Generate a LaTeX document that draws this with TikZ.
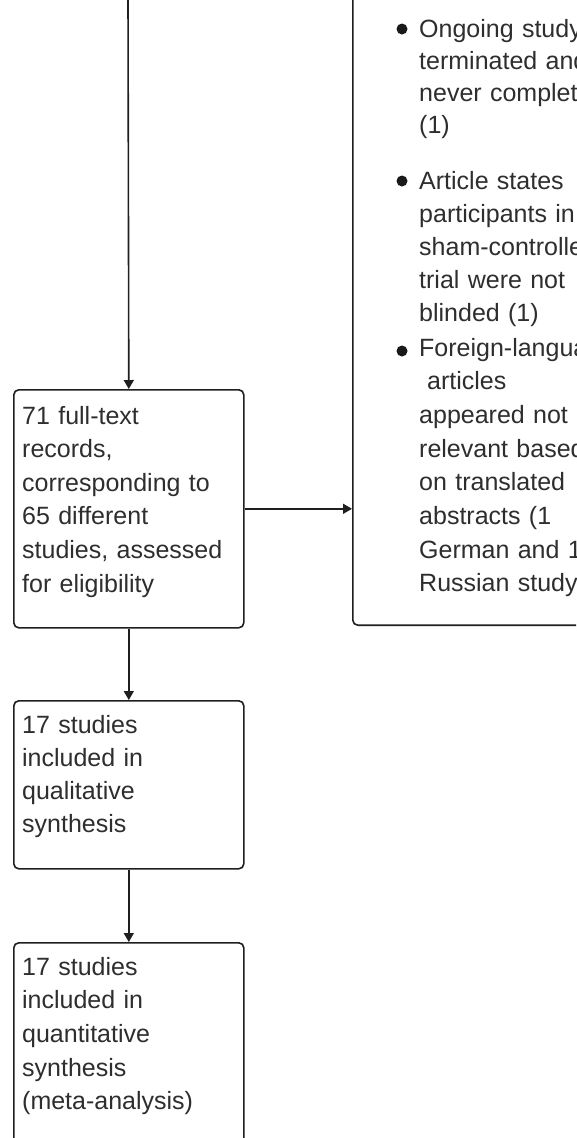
\documentclass[tikz,border=0pt]{standalone}
\usepackage{fontspec}
\setmainfont{Liberation Sans}
\usetikzlibrary{arrows.meta}
\begin{document}
\begin{tikzpicture}[x=1pt,y=-1pt,
  box/.style={draw=black!88, line width=1.6pt, rounded corners=5pt, inner sep=0pt},
  txt/.style={anchor=base west, inner sep=0pt, align=left, text=black!82, text width=#1},
  txt/.default=215pt,
  lh/.style={font={\fontsize{25pt}{#1}\selectfont}},
  arr/.style={draw=black!88, line width=1.6pt, -{Triangle[width=10pt,length=9pt]}},
  bul/.style={circle, fill=black!90, minimum size=11pt, inner sep=0pt}]
\useasboundingbox (0,0) rectangle (576,1138);
\fill[white] (0,0) rectangle (576,1138);
\clip (0,0) rectangle (576,1138);

% boxes
\node[box, minimum width=230pt, minimum height=238pt, anchor=north west] (b1) at (13,389) {};
\node[box, minimum width=230pt, minimum height=168pt, anchor=north west] (b2) at (13,700) {};
\node[box, minimum width=230pt, minimum height=300pt, anchor=north west] (b3) at (13,942) {};
\node[box, minimum width=450pt, minimum height=700pt, anchor=south west] (excl) at (352,626) {};

% texts
\node[txt, lh=33.6pt] (t1) at (22,424) {71 full-text\\records,\\corresponding to\\65 different\\studies, assessed\\for eligibility};
\node[txt, lh=33.3pt] (t2) at (22,733) {17 studies\\included in\\qualitative\\synthesis};
\node[txt, lh=33.7pt] (t3) at (22,975) {17 studies\\included in\\quantitative\\synthesis\\(meta-analysis)};

\node[bul] (k1) at (402,29) {};
\node[bul] (k2) at (402,181) {};
\node[bul] (k3) at (402,351) {};
\node[txt=400pt, lh=32.3pt] (i1) at (419,37) {Ongoing study\\terminated and\\never completed\\(1)};
\node[txt=400pt, lh=33.2pt] (i2) at (419,189) {Article states\\participants in\\sham-controlled\\trial were not\\blinded (1)};
\node[txt=400pt, lh=33.7pt] (i3) at (419,356) {Foreign-language\\\hspace*{8pt}articles\\appeared not\\relevant based\\on translated\\abstracts (1\\German and 1\\Russian study)};

% connectors
\coordinate (top) at (128,-5);
\draw[arr] (top) -- (b1.north);
\draw[arr] (b1.south) -- (b2.north);
\draw[arr] (b2.south) -- (b3.north);
\draw[arr] (b1.east) -- (b1.east -| excl.west);
\end{tikzpicture}
\end{document}
